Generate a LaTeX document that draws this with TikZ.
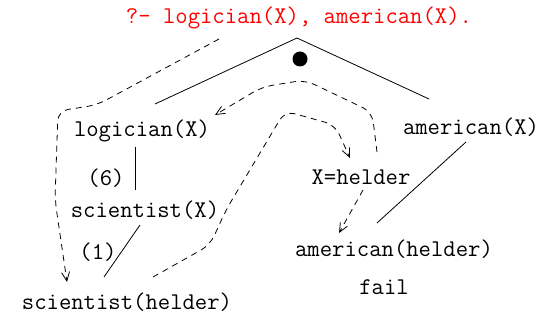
\documentclass[tikz,border=0pt]{standalone}
\usetikzlibrary{arrows.meta}
\begin{document}
\begin{tikzpicture}[x=1pt,y=-1pt,
  lbl/.style={inner sep=0pt,font=\fontsize{24}{28}\ttfamily},
  solidline/.style={line width=0.8pt},
  dashline/.style={line width=0.8pt,dash pattern=on 6pt off 5pt,rounded corners=10pt},
  arr/.style={-{Straight Barb[length=9pt,width=8pt]}}]
\useasboundingbox (0,0) rectangle (554,320);
\node[lbl,text=red] (q) at (299,18) {?- logician(X), american(X).};
\fill (300,59) circle (7.5);
\node[lbl] (log) at (142,131) {logician(X)};
\node[lbl] (six) at (106,178) {(6)};
\node[lbl] (sciX) at (145,210) {scientist(X)};
\node[lbl] (one) at (98,252) {(1)};
\node[lbl] (sciH) at (127,302) {scientist(helder)};
\node[lbl] (amX) at (471,127) {american(X)};
\node[lbl] (xh) at (361,177) {X=helder};
\node[lbl] (amH) at (394,249) {american(helder)};
\node[lbl] (fail) at (384,287) {fail};
% solid tree lines
\coordinate (apex) at (297,38);
\coordinate (lend) at (155,104);
\coordinate (rend) at (429,99);
\draw[solidline] (lend) -- (apex) -- (rend);
\coordinate (v1) at (135,147);
\coordinate (v2) at (135,190);
\draw[solidline] (v1) -- (v2);
\coordinate (d1) at (140,225);
\coordinate (d2) at (104,277);
\draw[solidline] (d1) -- (d2);
\coordinate (a1) at (466,142);
\coordinate (a2) at (377,223);
\draw[solidline] (a1) -- (a2);
% dashed search paths
\coordinate (p1s) at (219,39);
\coordinate (p1e) at (67,282);
\draw[dashline,arr] (p1s) -- (97,105) -- (58,111) -- (55,200) -- (p1e);
\coordinate (p2s) at (377,152);
\coordinate (p2e) at (215,115);
\draw[dashline,arr] (p2s) -- (372,112) -- (305,80) -- (262,87) -- (p2e);
\coordinate (p3s) at (153,277);
\coordinate (p3e) at (350,158);
\draw[dashline,arr] (p3s) -- (210,245) -- (226,210) -- (285,111) -- (335,125) -- (p3e);
\coordinate (p4s) at (363,190);
\coordinate (p4e) at (339,233);
\draw[dashline,arr] (p4s) -- (p4e);
\end{tikzpicture}
\end{document}
